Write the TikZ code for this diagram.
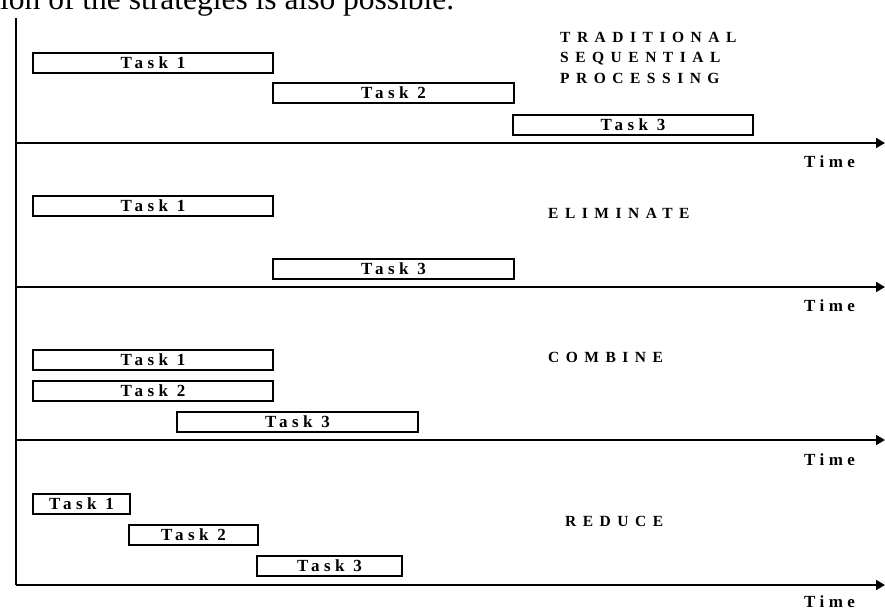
\documentclass[tikz,border=0pt]{standalone}
\usepackage{fontspec}
\setmainfont{Liberation Serif}
\usetikzlibrary{arrows.meta}
\newfontfamily\spacedfont[LetterSpace=26]{Liberation Serif}
\newfontfamily\headfont[LetterSpace=42]{Liberation Serif}
\begin{document}
\begin{tikzpicture}[x=1pt,y=-1pt,
  taskbox/.style={draw, line width=1.8pt, minimum height=20pt, inner sep=0pt, anchor=north west,
    font=\spacedfont\bfseries\fontsize{17}{18}\selectfont},
  axis/.style={line width=1.8pt, -{Triangle[length=9pt,width=10pt]}},
  timelbl/.style={anchor=west, inner sep=0pt, font=\spacedfont\bfseries\fontsize{17}{18}\selectfont},
  headlbl/.style={anchor=west, inner sep=0pt, align=left, font=\headfont\bfseries\fontsize{15.5}{20.5}\selectfont}]
\useasboundingbox (0,0) rectangle (885,610);
\node[anchor=base west, inner sep=0pt, font=\fontsize{31.5}{33}\selectfont] (top) at (0,10) {ion of the strategies is also possible.};
% vertical axis
\coordinate (v0) at (16,18);
\coordinate (v1) at (16,585);
\draw[line width=1.8pt] (v0) -- (v1);
% horizontal axes
\coordinate (a1s) at (16,143); \coordinate (a1e) at (885,143);
\coordinate (a2s) at (16,287); \coordinate (a2e) at (885,287);
\coordinate (a3s) at (16,440); \coordinate (a3e) at (885,440);
\coordinate (a4s) at (16,585); \coordinate (a4e) at (885,585);
\draw[axis] (a1s) -- (a1e);
\draw[axis] (a2s) -- (a2e);
\draw[axis] (a3s) -- (a3e);
\draw[axis] (a4s) -- (a4e);
\node[timelbl] (time1) at (804,162) {Time};
\node[timelbl] (time2) at (804,306) {Time};
\node[timelbl] (time3) at (804,460) {Time};
\node[timelbl] (time4) at (804,602) {Time};
% section 1
\node[taskbox, minimum width=240pt] (s1t1) at (32,52) {Task 1};
\node[taskbox, minimum width=241pt] (s1t2) at (272,82) {Task 2};
\node[taskbox, minimum width=240pt] (s1t3) at (512,114) {Task 3};
\node[headlbl] (h1) at (560,57.5) {TRADITIONAL\\SEQUENTIAL\\PROCESSING};
% section 2
\node[taskbox, minimum width=240pt] (s2t1) at (32,195) {Task 1};
\node[taskbox, minimum width=241pt] (s2t3) at (272,258) {Task 3};
\node[headlbl] (h2) at (548,213) {ELIMINATE};
% section 3
\node[taskbox, minimum width=240pt] (s3t1) at (32,349) {Task 1};
\node[taskbox, minimum width=240pt] (s3t2) at (32,380) {Task 2};
\node[taskbox, minimum width=241pt] (s3t3) at (176,411) {Task 3};
\node[headlbl] (h3) at (548,357) {COMBINE};
% section 4
\node[taskbox, minimum width=97pt] (s4t1) at (32,493) {Task 1};
\node[taskbox, minimum width=129pt] (s4t2) at (128,524) {Task 2};
\node[taskbox, minimum width=145pt] (s4t3) at (256,555) {Task 3};
\node[headlbl] (h4) at (565,521) {REDUCE};
\end{tikzpicture}
\end{document}
